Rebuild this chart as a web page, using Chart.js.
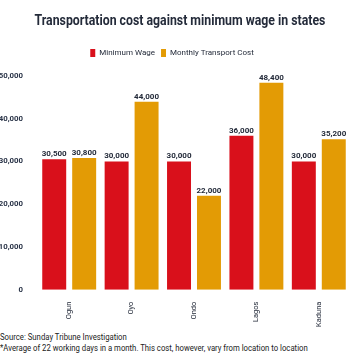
<!DOCTYPE html>
<html>
<head>
<meta charset="utf-8">
<script src="https://cdn.jsdelivr.net/npm/chart.js@4"></script>
<style>
  html, body { margin: 0; padding: 0; background: #fff; overflow: hidden; }
  body { width: 360px; height: 360px; position: relative; font-family: Roboto, sans-serif; }
  #title { position: absolute; left: 0; top: 11px; width: 360px; text-align: center; font-size: 15px; font-weight: bold;
           color: #242b3a; white-space: nowrap; transform: scaleX(0.82); transform-origin: 180px 0; line-height: 18px; }
  #wrap { position: absolute; left: -6px; top: 0; width: 366px; height: 331px; }
  .note { position: absolute; left: 0; font-size: 8.5px; color: #222; white-space: nowrap; transform: scaleX(0.91); transform-origin: 0 0; }
</style>
</head>
<body>
<div id="wrap"><canvas id="chart"></canvas></div>
<div id="title">Transportation cost against minimum wage in states</div>
<div class="note" style="top:332px">Source: Sunday Tribune Investigation</div>
<div class="note" style="top:343px">*Average of 22 working days in a month. This cost, however, vary from location to location</div>
<script>
const states = ['Ogun', 'Oyo', 'Ondo', 'Lagos', 'Kaduna'];
const minimumWage = [30500, 30000, 30000, 36000, 30000];
const transportCost = [30800, 44000, 22000, 48400, 35200];

const RED = '#d9101b';
const ORANGE = '#e39b05';
const INK = '#242b3a';

// numbers on top of each bar
const valueLabels = {
    id: 'valueLabels',
    afterDatasetsDraw(chart) {
        const ctx = chart.ctx;
        ctx.save();
        ctx.font = 'bold 8px Roboto, sans-serif';
        ctx.fillStyle = INK;
        ctx.textAlign = 'center';
        ctx.textBaseline = 'bottom';
        chart.data.datasets.forEach((ds, i) => {
            chart.getDatasetMeta(i).data.forEach((bar, j) => {
                ctx.fillText(ds.data[j].toLocaleString('en-US'), bar.x, bar.y - 1);
            });
        });
        ctx.restore();
    }
};

// extra room under the legend
const legendGap = {
    id: 'legendGap',
    beforeInit(chart) {
        const fit = chart.legend.fit;
        chart.legend.fit = function () {
            fit.bind(chart.legend)();
            this.height += 9;
        };
    }
};

new Chart(document.getElementById('chart'), {
    type: 'bar',
    data: {
        labels: states,
        datasets: [
            { label: 'Minimum Wage', data: minimumWage, backgroundColor: RED },
            { label: 'Monthly Transport Cost', data: transportCost, backgroundColor: ORANGE }
        ]
    },
    options: {
        responsive: true,
        maintainAspectRatio: false,
        animation: false,
        categoryPercentage: 0.96,
        barPercentage: 0.8,
        layout: { padding: { top: 43, right: 10, bottom: 0, left: 0 } },
        plugins: {
            legend: {
                labels: {
                    color: INK,
                    boxWidth: 5,
                    boxHeight: 8,
                    padding: 6,
                    font: { family: 'Roboto, sans-serif', size: 8 }
                }
            },
            tooltip: { enabled: false }
        },
        scales: {
            x: {
                grid: { display: false },
                border: { display: false },
                ticks: {
                    color: INK,
                    minRotation: 90,
                    maxRotation: 90,
                    padding: 4,
                    font: { family: 'Roboto, sans-serif', size: 7.5 }
                }
            },
            y: {
                min: 0,
                max: 50000,
                grid: { display: false },
                border: { display: false },
                afterFit: axis => { axis.width = 44; },
                ticks: {
                    stepSize: 10000,
                    color: '#2a3448',
                    padding: 7,
                    font: { family: 'Roboto, sans-serif', size: 7.8, weight: 'bold' },
                    callback: v => v.toLocaleString('en-US')
                }
            }
        }
    },
    plugins: [valueLabels, legendGap]
});
</script>
</body>
</html>
